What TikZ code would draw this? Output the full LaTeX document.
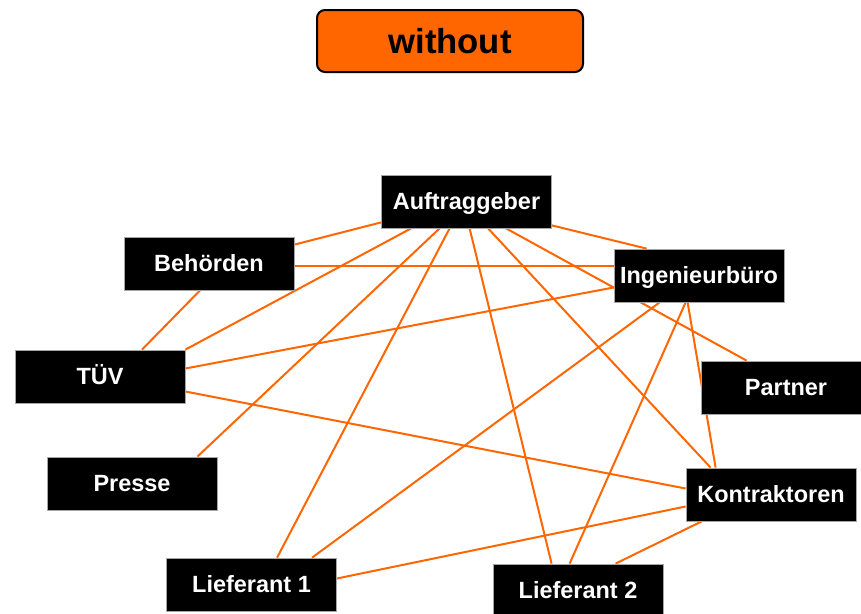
\documentclass[tikz,border=0pt]{standalone}
\usepackage{fontspec}
\setmainfont{Liberation Sans}
\usetikzlibrary{calc,backgrounds}
\definecolor{orng}{RGB}{255,102,0}

\tikzset{
  party/.style={draw=gray!70, line width=0.6pt, fill=black, text=white,
    font=\bfseries\fontsize{17.6}{20}\selectfont,
    text height=12.6pt, text depth=0pt,
    minimum width=127.5pt, minimum height=39.75pt, inner sep=0pt},
  titlebox/.style={draw=black, line width=1.5pt, fill=orng, rounded corners=6pt,
    font=\bfseries\fontsize{26}{30}\selectfont,
    text height=18.7pt, text depth=0pt,
    minimum width=199.5pt, minimum height=46.5pt, inner sep=0pt},
  link/.style={draw=orng, line width=1.5pt}
}

\begin{document}
\begin{tikzpicture}[x=0.75pt,y=0.75pt,yscale=-1,xscale=1]
	\useasboundingbox (0,0) rectangle (861,614);

	% Title
	\node[titlebox] (ttl) at (450,41) {without};

	% Text Node
	\node[party] (auf) at (466.5,201.5) {Auftraggeber};
	% Text Node
	\node[party] (beh) at (209,263.5) {Behörden};
	% Text Node
	\node[party] (ing) at (699,275.5) {Ingenieurbüro};
	% Text Node
	\node[party] (tuv) at (100,376.5) {TÜV};
	% Text Node
	\node[party] (par) at (786,387.5) {Partner};
	% Text Node
	\node[party] (pre) at (132,483.5) {Presse};
	% Text Node
	\node[party] (kon) at (771,494.5) {Kontraktoren};
	% Text Node
	\node[party] (lf1) at (251.5,584.5) {Lieferant 1};
	% Text Node
	\node[party] (lf2) at (578,590.5) {Lieferant 2};

	\begin{scope}[on background layer]
	% Connection
	\draw[link] ($(auf.south west)+(0,-6)$) -- ($(beh.north east)+(0,8)$);
	% Connection
	\draw[link] ($(auf.south west)+(30,0)$) -- (tuv.north east);
	% Connection
	\draw[link] ($(auf.south west)+(58.5,0)$) -- ($(pre.north east)+(-20,0)$);
	% Connection
	\draw[link] ($(auf.south west)+(68.5,0)$) -- ($(lf1.north west)+(111,0)$);
	% Connection
	\draw[link] ($(auf.south west)+(88.5,0)$) -- ($(lf2.north west)+(59,0)$);
	% Connection
	\draw[link] ($(auf.south west)+(107,0)$) -- ($(kon.north west)+(25,0)$);
	% Connection
	\draw[link] ($(auf.south west)+(125,0)$) -- ($(par.north west)+(46,0)$);
	% Connection
	\draw[link] ($(auf.south east)+(0,-3)$) -- ($(ing.north west)+(33,0)$);
	% Connection
	\draw[link] ($(beh.east)+(0,2)$) coordinate (b1) -- (b1 -| ing.west);
	% Connection
	\draw[link] ($(beh.south)+(-9,0)$) -- ($(tuv.north)+(42,0)$);
	% Connection
	\draw[link] ($(tuv.east)+(0,-8)$) -- ($(ing.west)+(0,12)$);
	% Connection
	\draw[link] ($(tuv.east)+(0,15)$) -- ($(kon.west)+(0,-6)$);
	% Connection
	\draw[link] ($(ing.south west)+(46,0)$) -- ($(lf1.north west)+(146,0)$);
	% Connection
	\draw[link] ($(ing.south west)+(72,0)$) -- ($(lf2.north west)+(77,0)$);
	% Connection
	\draw[link] ($(ing.south west)+(74,0)$) -- ($(kon.north west)+(30,0)$);
	% Connection
	\draw[link] ($(lf1.east)+(0,-6)$) -- ($(kon.west)+(0,12)$);
	% Connection
	\draw[link] ($(lf2.north west)+(123,0)$) -- ($(kon.south west)+(16,0)$);
	\end{scope}

\end{tikzpicture}
\end{document}
